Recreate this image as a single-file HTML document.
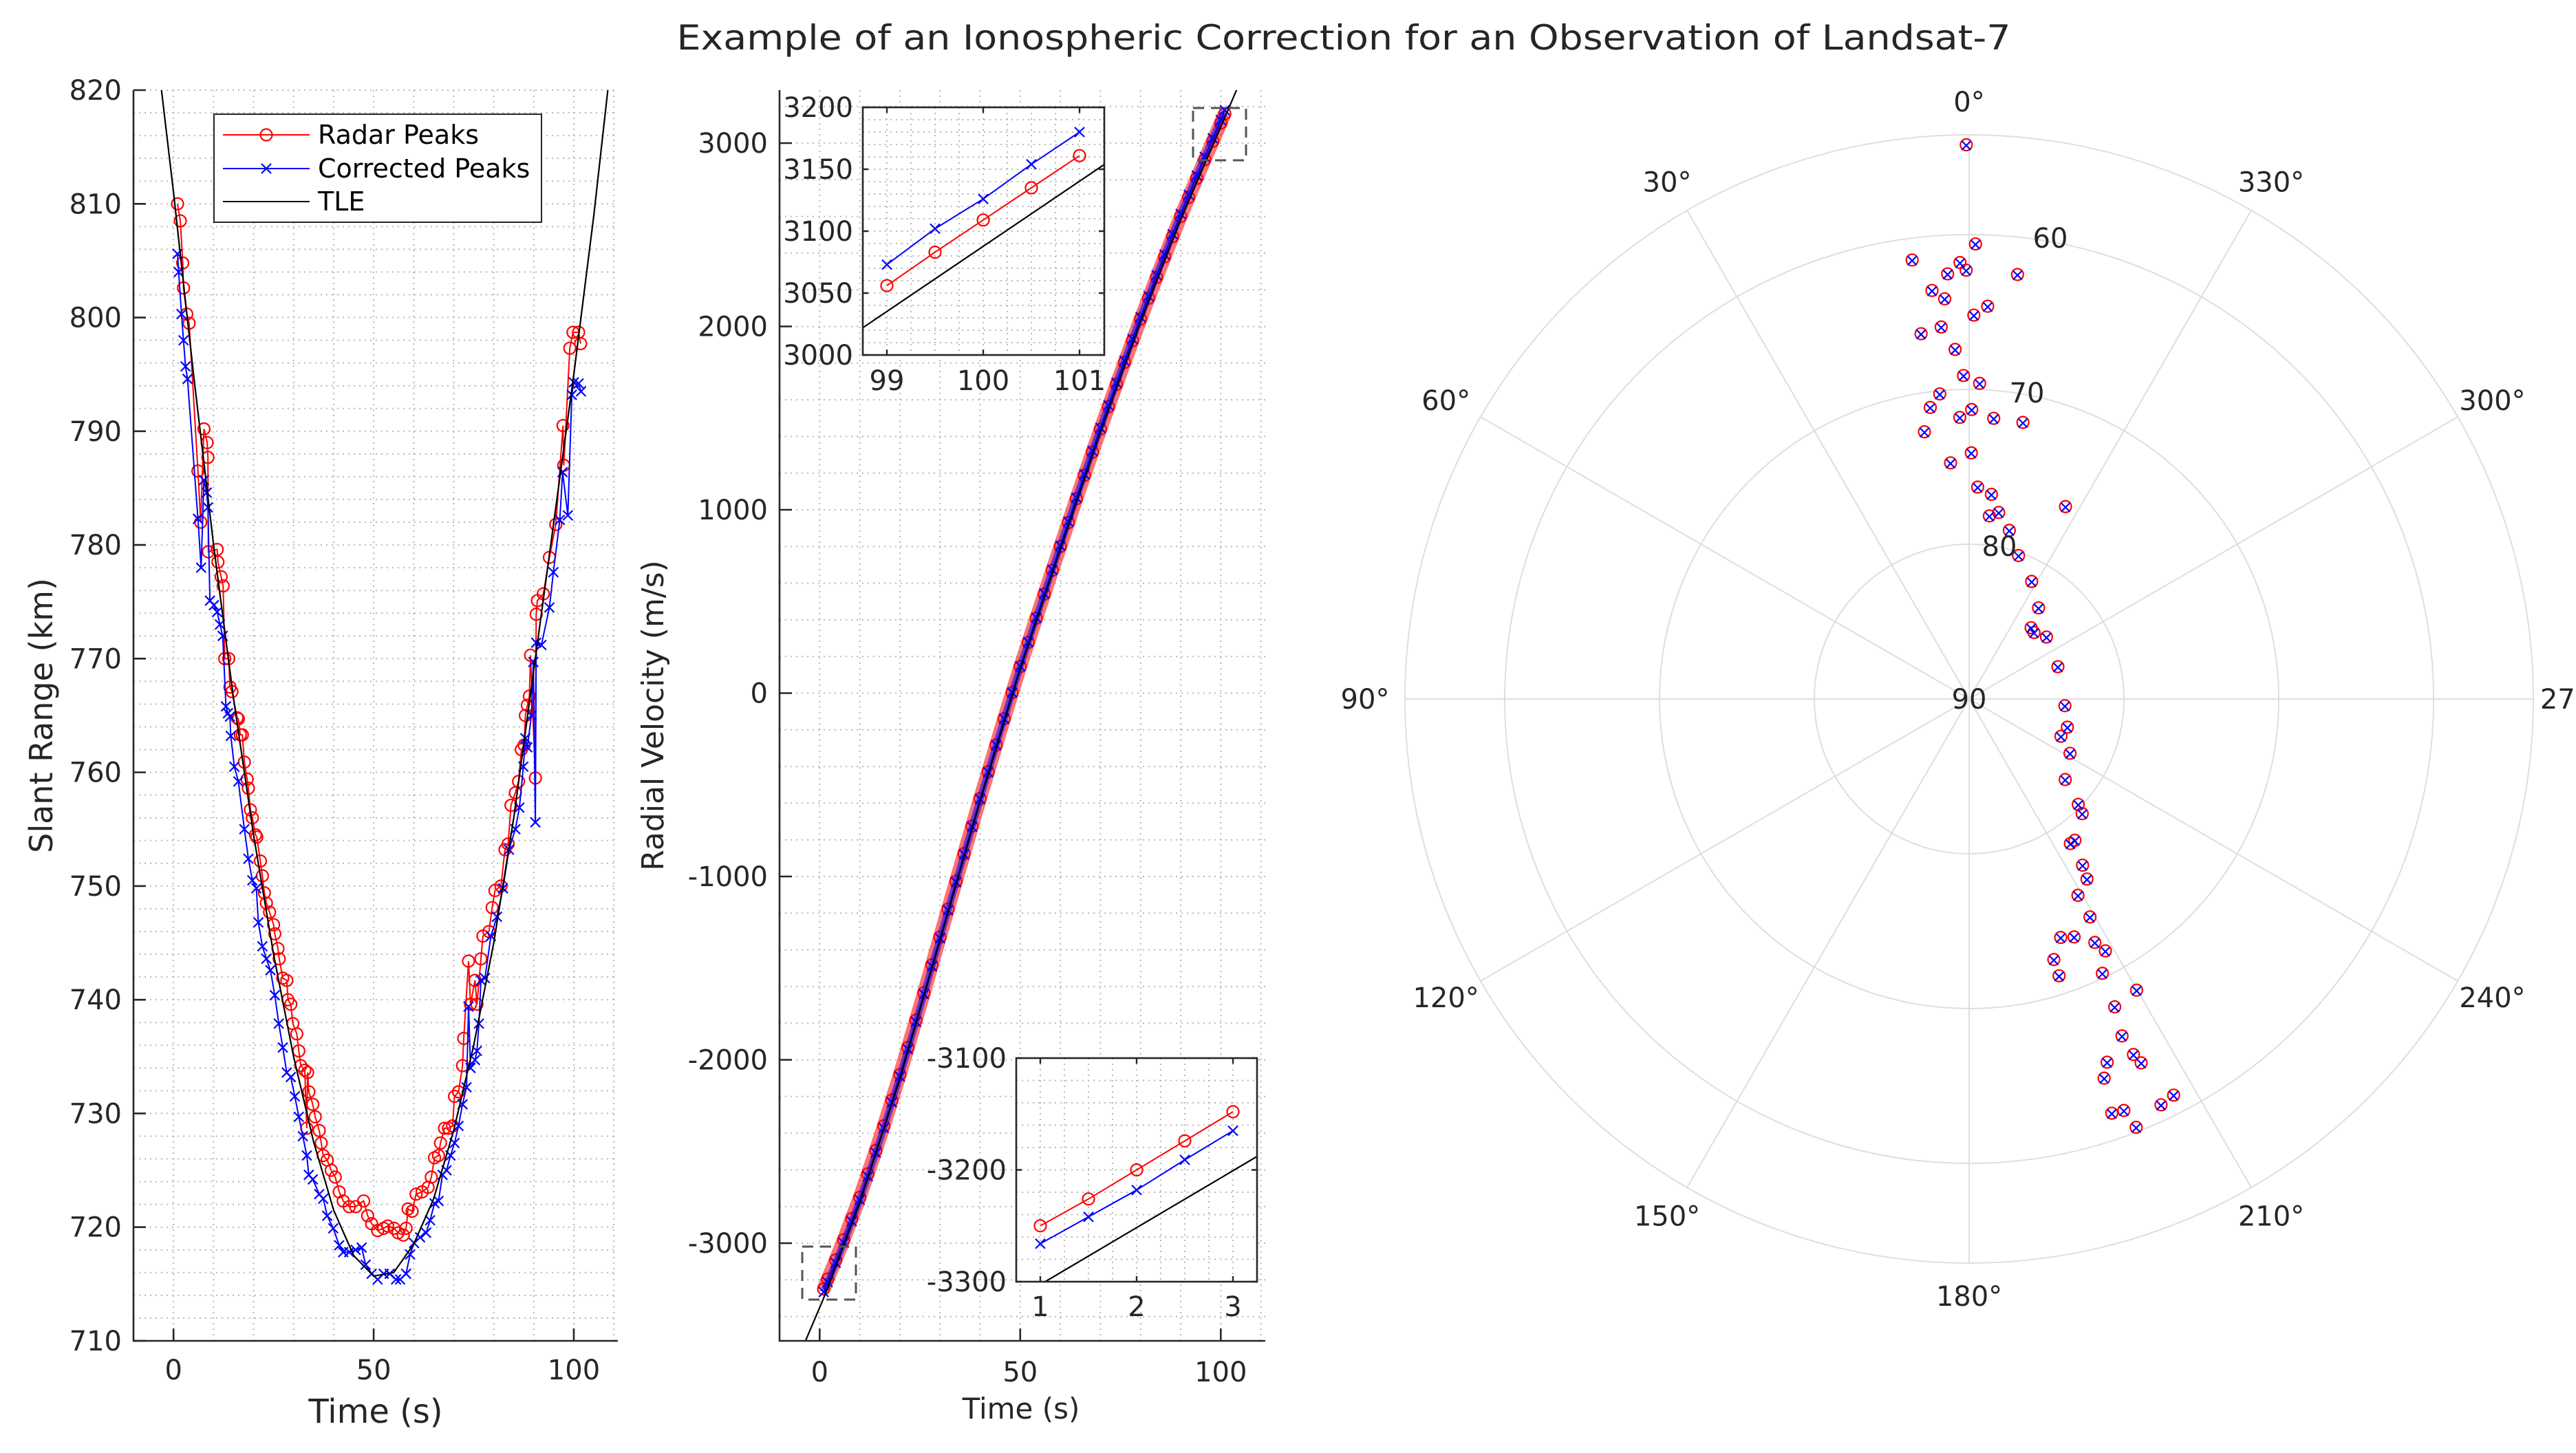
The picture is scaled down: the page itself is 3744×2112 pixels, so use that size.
<!DOCTYPE html>
<html><head><meta charset="utf-8"><style>
html,body{margin:0;padding:0;background:#fff;}
svg{display:block;font-family:"DejaVu Sans","Liberation Sans",sans-serif;}
</style></head><body>
<svg id="chart" xmlns="http://www.w3.org/2000/svg" width="3744" height="2112" viewBox="0 0 3744 2112">
<rect x="0" y="0" width="3744" height="2112" fill="#fff"/>
<defs>
<clipPath id="clipL"><rect x="194" y="131" width="704" height="1818"/></clipPath>
<clipPath id="clipM"><rect x="1133" y="131" width="706" height="1818"/></clipPath>
<clipPath id="clipI1"><rect x="1254" y="156" width="351" height="360"/></clipPath>
<clipPath id="clipI2"><rect x="1477" y="1538" width="350" height="325"/></clipPath>
</defs>
<text x="1953" y="72" text-anchor="middle" font-size="50" fill="#262626" textLength="1939" lengthAdjust="spacingAndGlyphs">Example of an Ionospheric Correction for an Observation of Landsat-7</text>
</svg>
<script>
// ---------- Left panel data: slant range ----------
const rangeRadarT = [1,1.7,2.3,2.5,3.3,3.9,6.1,6.8,7.6,8.4,8.6,8.7,10.9,11.1,11.9,12.4,12.8,13.8,14.1,14.6,15.9,16.2,16.7,17.2,17.7,18.4,18.7,19.2,19.7,20.5,20.8,21.7,22.2,22.7,23.2,24,25,25.3,26.1,26.4,27.3,28.3,28.6,29.3,29.8,30.8,31.3,31.8,32.8,33.3,33.5,33.8,34.8,35.4,36.4,36.9,37.4,38.4,39.4,40.4,41.4,42.4,43.9,45.5,47.5,48.5,49.5,51,52.5,53.5,55.1,56.1,57.4,58.1,58.6,59.6,60.6,62.1,63.6,64.4,65.2,66.2,66.7,67.7,68.7,69.7,70.2,71.2,72.2,72.5,73.7,74.2,75.3,75.8,76.8,77.3,78.8,79.6,80.3,81.8,82.8,83.6,84.3,85.4,86.2,86.9,87.6,87.9,88.4,88.9,89.2,90.4,90.6,90.9,92.4,93.9,95.5,97.3,97.5,99,99.8,101.2,101.7];
const rangeRadarV = [810,808.5,804.8,802.6,800.3,799.5,786.5,782,790.2,789,787.7,779.4,779.6,778.5,777.2,776.4,770,770,767.5,767.1,764.8,764.7,763.3,763.3,760.9,759.4,758.6,756.7,756,754.5,754.3,752.2,750.9,749.4,748.5,747.7,746.6,745.8,744.5,743.6,741.9,741.7,740,739.6,737.9,737,735.5,734.2,733.8,728.7,733.6,731.9,730.8,729.7,728.5,727.4,726.3,725.9,725,724.4,723.1,722.3,721.8,721.8,722.3,721,720.3,719.7,719.9,720.1,719.9,719.5,719.3,719.9,721.6,721.4,722.9,723.1,723.5,724.4,726.1,726.3,727.4,728.7,728.7,728.9,731.5,731.9,734.2,736.6,743.4,739.6,741.7,739.6,743.6,745.6,746,748.1,749.6,750,753.2,753.7,757.1,758.2,759.2,762,762.4,765,765.9,766.7,770.3,759.5,773.9,775.1,775.7,778.9,781.8,790.5,787,797.3,798.7,798.7,797.7];
const rangeCorrT = [1,1.3,2,2.5,3,3.5,6.1,6.9,7.6,8.3,8.6,9.1,10.1,10.9,11.6,12.3,13.1,13.6,14.1,14.3,15.2,16.2,17.7,18.7,19.7,20.7,21.2,22.2,23.2,24.2,25.3,26.3,27.3,28.3,29.3,30.3,31.3,32.3,33.3,33.8,34.8,36.4,37.4,38.4,39.9,41.4,42.4,43.9,45.5,47,48,49.5,51,52.5,54,55.6,56.6,58.1,59.1,60.1,61.6,63.1,64.1,65.2,66.2,67.2,68.2,69.2,70.2,71.2,72.2,73.2,73.7,74.2,75.3,75.8,76.3,76.8,77.8,79.3,80.8,82.3,83.8,85.4,86.4,87.4,87.9,88.4,89.4,89.9,90.4,90.6,91.9,93.9,94.9,96.5,97.2,98.5,99.5,100,101.2,101.8];
const rangeCorrV = [805.6,804,800.3,798,795.7,794.6,782.3,778,785.7,784.6,783.3,775.1,774.7,774.1,773,772,765.8,765.2,764.9,763.2,760.5,759.2,755,752.4,750.5,749.8,746.8,744.7,743.6,742.6,740.4,737.9,735.8,733.6,733.2,731.5,729.7,728,726.3,724.6,724.2,722.9,722.5,721,719.9,718.4,717.8,717.8,718,718.2,716.7,715.9,715.4,715.9,715.9,715.4,715.4,715.9,717.6,718.6,719.1,719.5,720.6,722.1,722.3,724.6,725,726.3,727.4,728.9,730.8,732.3,739.4,734,734.7,735.5,737.9,741.7,741.9,745.6,747.3,749.8,753.2,755,756.9,760.5,763,762.2,765,769.7,755.6,771.4,771.2,774.5,777.6,782.2,786.4,782.6,793.2,794.3,794.2,793.5];
const rangeTleT = [-3,0,2.5,5,10,15,20,25,30,35,40,45,50,55,60,65,70,75,80,85,90,95,100,105,108.5];
const rangeTleV = [820,811,803,795,780,766.5,754.5,744,735,727.5,721.5,717.5,715.7,716,718.5,722.5,728.5,736,745,756,769,782,795,809,820];
const rangeXTicks = [0,50,100];
const rangeYTicks = [710,720,730,740,750,760,770,780,790,800,810,820];

// ---------- Middle panel data: radial velocity ----------
const velT = [1,2,4,6,8,10,12,14,16,18,20,22,24,26,28,30,32,34,36,38,40,42,44,46,48,50,52,54,56,58,60,62,64,66,68,70,72,74,76,78,80,82,84,86,88,90,92,94,96,98,100,101];
const velRadar = [-3250,-3196,-3092,-2982,-2866,-2750,-2622,-2494,-2360,-2220,-2080,-1932,-1784,-1634,-1482,-1330,-1178,-1026,-875,-725,-575,-429,-283,-139,3,145,277,409,540,670,800,930,1060,1188,1314,1440,1562,1684,1804,1922,2040,2154,2268,2380,2490,2600,2704,2808,2910,3010,3110,3161];
const velCorr = [-3267,-3213,-3108,-2998,-2881,-2764,-2636,-2507,-2372,-2232,-2091,-1942,-1793,-1642,-1490,-1337,-1184,-1031,-880,-729,-578,-431,-284,-140,3,146,278,411,543,673,804,935,1066,1194,1321,1447,1570,1693,1813,1932,2051,2165,2280,2392,2503,2614,2718,2823,2925,3026,3126,3180];
const velTleT = [-6,1,10,20,30,40,50,60,70,80,90,100,105];
const velTleV = [-3660,-3300,-2780,-2105,-1350,-590,130,785,1425,2025,2585,3088,3345];
const velXTicks = [0,50,100];
const velYTicks = [-3000,-2000,-1000,0,1000,2000,3000];
// inset (end of pass)
const insetEndT = [99,99.5,100,100.5,101];
const insetEndRadar = [3056,3083,3109,3135,3161];
const insetEndCorr = [3073,3102,3126,3154,3180];
const insetEndTleT = [98.75,101.26];
const insetEndTleV = [3022,3154];
const insetEndXTicks = [99,100,101];
const insetEndYTicks = [3000,3050,3100,3150,3200];
// inset (start of pass)
const insetStartT = [1,1.5,2,2.5,3];
const insetStartRadar = [-3250,-3226,-3200,-3174,-3148];
const insetStartCorr = [-3266,-3242,-3218,-3191,-3165];
const insetStartTleT = [1.05,3.25];
const insetStartTleV = [-3300,-3188];
const insetStartXTicks = [1,2,3];
const insetStartYTicks = [-3300,-3200,-3100];

// ---------- Right panel data: sky plot (azimuth deg, elevation deg) ----------
const skyAz = [0.3,7.4,359.2,353.5,1.2,2.9,0.4,5.2,3.5,359.3,357.3,7.5,4.3,2.3,1,5.5,7.6,9.5,349,355,4.5,359.5,358.1,1.9,359.5,357.7,353.8,333.4,351,346.6,341,332,322.7,308.7,319,290,266,254,241.7,230,226,216.8,214.3,209,209,203.8,201,198,198,207.3,208.4,205.9,209.9,205.3,204.4,204.8,205.3,200.8,199.6,199,200.6,201.3,205.3,207.3,215,224.6,247.9,315.7,353.7,213.2];
const skyEl = [54.2,61.4,60.6,62.4,61.8,62.5,62.3,63.5,64.1,65.2,64.6,66.2,65.9,67.4,69.1,70.2,71,72.5,71.8,71.8,74.7,71.3,69.6,71.8,74.1,76.3,76.7,76.1,77.8,78.8,80.2,81.4,82.6,83.6,83.9,83.9,83.8,83.4,82.6,81.9,80.2,78.6,77,75.5,73.9,73.2,73.5,72.3,71.2,72.3,71.5,70.3,68.3,68,66.1,64.7,64,64.9,64,61.7,61.6,60.3,61,61.2,78.6,79.6,83.6,84,78.1,76.1];
const skyTleAz = [7.2,5.5,2.1,352.4,270,212.6,202.9,199.4,197.7];
const skyTleEl = [53.7,62.5,71.5,80.3,86.6,80.3,71.5,62.5,53.3];
const skyAzTicks = [0,30,60,90,120,150,180,210,240,270,300,330];
const skyElRings = [60,70,80];

const NS = "http://www.w3.org/2000/svg";
const svg = document.getElementById('chart');
const INK = "#262626";
const FS = 40;
function mk(tag, attrs, parent) {
  const e = document.createElementNS(NS, tag);
  for (const k in attrs) e.setAttribute(k, attrs[k]);
  (parent || svg).appendChild(e);
  return e;
}
function txt(s, attrs, parent) { const e = mk('text', attrs, parent); e.textContent = s; return e; }

const xL = t => 194 + (t + 10) * 5.818;
const yL = v => 131 + (820 - v) * 16.527;
const xM = t => 1133 + (t + 10) * 5.83;
const yM = v => 208 - (v - 3000) * 0.2665;
const xI1 = t => 1289 + (t - 99) * 140;
const yI1 = v => 516 - (v - 3000) * 1.8;
const xI2 = t => 1512 + (t - 1) * 140;
const yI2 = v => 1538 + (-3100 - v) * 1.625;
const CX = 2862, CY = 1016, PPD = 22.5;
const rP = el => (90 - el) * PPD;
const pX = (az, el) => CX - rP(el) * Math.sin(az * Math.PI / 180);
const pY = (az, el) => CY - rP(el) * Math.cos(az * Math.PI / 180);

function pathFrom(ts, vs, fx, fy) {
  return ts.map((t, i) => (i ? 'L' : 'M') + fx(t).toFixed(1) + ' ' + fy(vs[i]).toFixed(1)).join(' ');
}
function circleMark(g, x, y, r) {
  const c = mk('circle', {cx: x, cy: y, r: r, fill: 'none', stroke: '#ff0000', 'stroke-width': 2.2}, g);
  
  
}
function crossMark(g, x, y, s) {
  const p = mk('path', {d: `M${x-s} ${y-s}L${x+s} ${y+s}M${x-s} ${y+s}L${x+s} ${y-s}`, stroke: '#0000ff', 'stroke-width': 2.2, fill: 'none'}, g);
  
  
}
function sortPairs(ts, vs) {
  const idx = ts.map((t, i) => i).sort((a, b) => ts[a] - ts[b]);
  return [idx.map(i => ts[i]), idx.map(i => vs[i])];
}
function gridLines(parent, x0, x1, y0, y1, xs, ys, fx, fy) {
  xs.forEach(t => {
    const l = mk('line', {x1: fx(t), x2: fx(t), y1: y0, y2: y1, stroke: '#b8b8b8', 'stroke-width': 2, 'stroke-dasharray': '2 6'}, parent);
    
    
  });
  ys.forEach(v => {
    const l = mk('line', {x1: x0, x2: x1, y1: fy(v), y2: fy(v), stroke: '#b8b8b8', 'stroke-width': 2, 'stroke-dasharray': '2 6'}, parent);
    
    
  });
}
function range(a, b, s) { const r = []; for (let v = a; v <= b + 1e-9; v += s) r.push(+v.toFixed(4)); return r; }

// ================= LEFT PANEL =================
const gL = mk('g', {});


gridLines(gL, 194, 898, 131, 1949, range(0, 110, 10), range(712, 820, 2), xL, yL);
const gLd = mk('g', {'clip-path': 'url(#clipL)'}, gL);


{
  const [rt, rv] = sortPairs(rangeRadarT, rangeRadarV);
  const pr = mk('path', {d: pathFrom(rt, rv, xL, yL), stroke: '#ff0000', 'stroke-width': 2, fill: 'none'}, gLd);
  
  
  rt.forEach((t, i) => circleMark(gLd, xL(t), yL(rv[i]), 8.5));
  const [ct, cv] = sortPairs(rangeCorrT, rangeCorrV);
  const pc = mk('path', {d: pathFrom(ct, cv, xL, yL), stroke: '#0000ff', 'stroke-width': 2, fill: 'none'}, gLd);
  
  
  ct.forEach((t, i) => crossMark(gLd, xL(t), yL(cv[i]), 7));
  const pt = mk('path', {d: pathFrom(rangeTleT, rangeTleV, xL, yL), stroke: '#000', 'stroke-width': 2.2, fill: 'none'}, gLd);
  
  
}
{
  const ax = mk('path', {d: 'M194 131 L194 1949 L898 1949', stroke: INK, 'stroke-width': 2.6, fill: 'none'}, gL);
  
  
  rangeXTicks.forEach(t => {
    const tk = mk('line', {x1: xL(t), x2: xL(t), y1: 1949, y2: 1931, stroke: INK, 'stroke-width': 2.6}, gL);
    
    
    const lb = txt(String(t), {x: xL(t), y: 2005, 'text-anchor': 'middle', 'font-size': FS, fill: INK}, gL);
    
    
  });
  rangeYTicks.forEach(v => {
    const tk = mk('line', {x1: 194, x2: 212, y1: yL(v), y2: yL(v), stroke: INK, 'stroke-width': 2.6}, gL);
    
    
    const lb = txt(String(v), {x: 177, y: yL(v) + 14, 'text-anchor': 'end', 'font-size': FS, fill: INK}, gL);
    
    
  });
  const xt = txt('Time (s)', {x: 546, y: 2068, 'text-anchor': 'middle', 'font-size': 48, fill: INK}, gL);
  
  
  const yt = txt('Slant Range (km)', {x: 0, y: 0, 'text-anchor': 'middle', 'font-size': 46, fill: INK, transform: 'translate(76 1040) rotate(-90)'}, gL);
  
  
  const lg = mk('g', {}, gL);
  
  
  const lbx = mk('rect', {x: 311, y: 166, width: 476, height: 157, fill: '#fff', stroke: INK, 'stroke-width': 2}, lg);
  
  
  const entries = [['Radar Peaks', '#ff0000', 196, 'o'], ['Corrected Peaks', '#0000ff', 245, 'x'], ['TLE', '#000', 293, '']];
  entries.forEach(e => {
    const ln = mk('line', {x1: 324, x2: 450, y1: e[2], y2: e[2], stroke: e[1], 'stroke-width': 2}, lg);
    
    
    if (e[3] === 'o') circleMark(lg, 387, e[2], 8.5);
    if (e[3] === 'x') crossMark(lg, 387, e[2], 7);
    const t = txt(e[0], {x: 462, y: e[2] + 13, 'font-size': 38, fill: '#000'}, lg);
    
    
  });
}

// ================= MIDDLE PANEL =================
const gM = mk('g', {});


gridLines(gM, 1133, 1839, 131, 1949, range(0, 110, 10), range(-3400, 3200, 200), xM, yM);
const gMd = mk('g', {'clip-path': 'url(#clipM)'}, gM);


{
  const ur = mk('path', {d: pathFrom(velT, velRadar, xM, yM), stroke: '#ff0000', 'stroke-width': 20, 'stroke-opacity': 0.55, fill: 'none'}, gMd);
  
  
  const pr = mk('path', {d: pathFrom(velT, velRadar, xM, yM), stroke: '#ff0000', 'stroke-width': 2, fill: 'none'}, gMd);
  
  
  velT.forEach((t, i) => circleMark(gMd, xM(t), yM(velRadar[i]), 8.5));
  const uc = mk('path', {d: pathFrom(velT, velCorr, xM, yM), stroke: '#0000ff', 'stroke-width': 10, 'stroke-opacity': 0.55, fill: 'none'}, gMd);
  
  
  const pc = mk('path', {d: pathFrom(velT, velCorr, xM, yM), stroke: '#0000ff', 'stroke-width': 2, fill: 'none'}, gMd);
  
  
  velT.forEach((t, i) => crossMark(gMd, xM(t), yM(velCorr[i]), 7));
  const pt = mk('path', {d: pathFrom(velTleT, velTleV, xM, yM), stroke: '#000', 'stroke-width': 2.2, fill: 'none'}, gMd);
  
  
  const b1 = mk('rect', {x: 1734, y: 157, width: 77, height: 76, fill: 'none', stroke: '#555', 'stroke-width': 3, 'stroke-dasharray': '16 10'}, gMd);
  
  
  const b2 = mk('rect', {x: 1166, y: 1812, width: 78, height: 77, fill: 'none', stroke: '#555', 'stroke-width': 3, 'stroke-dasharray': '16 10'}, gMd);
  
  
}
{
  const ax = mk('path', {d: 'M1133 131 L1133 1949 L1839 1949', stroke: INK, 'stroke-width': 2.6, fill: 'none'}, gM);
  
  
  velXTicks.forEach(t => {
    const tk = mk('line', {x1: xM(t), x2: xM(t), y1: 1949, y2: 1931, stroke: INK, 'stroke-width': 2.6}, gM);
    
    
    const lb = txt(String(t), {x: xM(t), y: 2008, 'text-anchor': 'middle', 'font-size': FS, fill: INK}, gM);
    
    
  });
  velYTicks.forEach(v => {
    const tk = mk('line', {x1: 1133, x2: 1151, y1: yM(v), y2: yM(v), stroke: INK, 'stroke-width': 2.6}, gM);
    
    
    const lb = txt(String(v), {x: 1116, y: yM(v) + 14, 'text-anchor': 'end', 'font-size': FS, fill: INK}, gM);
    
    
  });
  const xt = txt('Time (s)', {x: 1484, y: 2062, 'text-anchor': 'middle', 'font-size': 42, fill: INK}, gM);
  
  
  const yt = txt('Radial Velocity (m/s)', {x: 0, y: 0, 'text-anchor': 'middle', 'font-size': 44, fill: INK, transform: 'translate(964 1040) rotate(-90)'}, gM);
  
  
}
function drawInset(name, box, clip, fx, fy, T, R, C, TT, TV, xTicks, yTicks, gx, gy, labelRight, labelBase) {
  const g = mk('g', {});
  
  
  const bg = mk('rect', {x: box[0], y: box[1], width: box[2], height: box[3], fill: '#fff'}, g);
  
  
  gridLines(g, box[0], box[0] + box[2], box[1], box[1] + box[3], gx, gy, fx, fy);
  const gd = mk('g', {'clip-path': clip}, g);
  
  
  const pt = mk('path', {d: pathFrom(TT, TV, fx, fy), stroke: '#000', 'stroke-width': 2.2, fill: 'none'}, gd);
  
  
  const pr = mk('path', {d: pathFrom(T, R, fx, fy), stroke: '#ff0000', 'stroke-width': 2, fill: 'none'}, gd);
  
  
  T.forEach((t, i) => circleMark(gd, fx(t), fy(R[i]), 8.5));
  const pc = mk('path', {d: pathFrom(T, C, fx, fy), stroke: '#0000ff', 'stroke-width': 2, fill: 'none'}, gd);
  
  
  T.forEach((t, i) => crossMark(gd, fx(t), fy(C[i]), 7));
  const br = mk('rect', {x: box[0], y: box[1], width: box[2], height: box[3], fill: 'none', stroke: INK, 'stroke-width': 2.6}, g);
  
  
  xTicks.forEach(t => {
    const tk = mk('path', {d: `M${fx(t)} ${box[1]+box[3]}v-8M${fx(t)} ${box[1]}v8`, stroke: INK, 'stroke-width': 2.4}, g);
    
    
    const lb = txt(String(t), {x: fx(t), y: labelBase, 'text-anchor': 'middle', 'font-size': FS, fill: INK}, g);
    
    
  });
  yTicks.forEach(v => {
    const tk = mk('path', {d: `M${box[0]} ${fy(v)}h8M${box[0]+box[2]} ${fy(v)}h-8`, stroke: INK, 'stroke-width': 2.4}, g);
    
    
    const lb = txt(String(v), {x: labelRight, y: fy(v) + 14, 'text-anchor': 'end', 'font-size': FS, fill: INK}, g);
    
    
  });
}
drawInset('inset-end-of-pass', [1254, 156, 351, 360], 'url(#clipI1)', xI1, yI1,
  insetEndT, insetEndRadar, insetEndCorr, insetEndTleT, insetEndTleV,
  insetEndXTicks, insetEndYTicks, range(99, 101.25, 0.25), range(3000, 3200, 10), 1240, 567);
drawInset('inset-start-of-pass', [1477, 1538, 350, 325], 'url(#clipI2)', xI2, yI2,
  insetStartT, insetStartRadar, insetStartCorr, insetStartTleT, insetStartTleV,
  insetStartXTicks, insetStartYTicks, range(1, 3.25, 0.25), range(-3300, -3100, 20), 1463, 1913);

// ================= RIGHT PANEL (sky plot) =================
const gP = mk('g', {});


{
  const R0 = 820;
  skyAzTicks.forEach(a => {
    const rad = a * Math.PI / 180;
    const sp = mk('line', {x1: CX, y1: CY, x2: CX - R0 * Math.sin(rad), y2: CY - R0 * Math.cos(rad), stroke: '#dedede', 'stroke-width': 2}, gP);
    
    
    const lb = txt(a + '°', {x: CX - 878 * Math.sin(rad), y: CY - 868 * Math.cos(rad) + 14, 'text-anchor': 'middle', 'font-size': FS, fill: INK}, gP);
    
    
  });
  skyElRings.forEach(e => {
    const c = mk('circle', {cx: CX, cy: CY, r: rP(e), fill: 'none', stroke: '#dedede', 'stroke-width': 2}, gP);
    
    
  });
  const oc = mk('circle', {cx: CX, cy: CY, r: R0, fill: 'none', stroke: '#dedede', 'stroke-width': 2}, gP);
  
  
  const tl = mk('path', {d: pathFrom(skyTleAz, skyTleEl, pX, pY), stroke: '#000', 'stroke-width': 2.2, fill: 'none'}, gP);
  
  
  skyAz.forEach((a, i) => circleMark(gP, pX(a, skyEl[i]), pY(a, skyEl[i]), 8.5));
  skyAz.forEach((a, i) => crossMark(gP, pX(a, skyEl[i]), pY(a, skyEl[i]) + 1, 6.5));
  const rl = [[60, 2980, 360], [70, 2946, 585], [80, 2906, 808], [90, 2862, 1030]];
  rl.forEach(r => {
    const lb = txt(String(r[0]), {x: r[1], y: r[2], 'text-anchor': 'middle', 'font-size': FS, fill: INK}, gP);
    
    
  });
}
</script>
</body></html>
